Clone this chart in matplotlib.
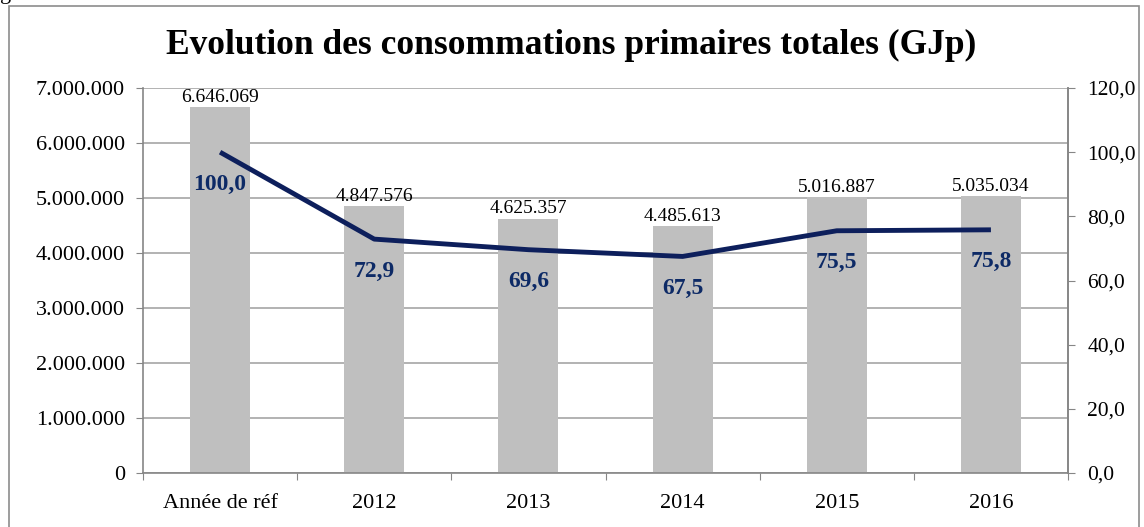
import matplotlib
matplotlib.use("Agg")
import matplotlib.pyplot as plt
from matplotlib.patches import Rectangle
from matplotlib.ticker import FuncFormatter, MultipleLocator

categories = ["Année de réf", "2012", "2013", "2014", "2015", "2016"]
consumption = [6646069, 4847576, 4625357, 4485613, 5016887, 5035034]
index_values = [100.0, 72.9, 69.6, 67.5, 75.5, 75.8]
title = "Evolution des consommations primaires totales (GJp)"

plt.rcParams['font.family'] = ['Liberation Serif', 'DejaVu Serif']

fig = plt.figure(figsize=(11.44, 5.27), dpi=100)
W, H = 1144, 527

def fx(px):
    return px / W

def fy(py):
    return 1 - py / H

# outer frame
fig.patches.append(Rectangle((fx(9), -0.02), fx(1139) - fx(9), fy(6) + 0.02,
                             transform=fig.transFigure, fill=False,
                             edgecolor='#8c8c8c', linewidth=1.2))
fig.text(fx(0), fy(-1), "g", fontsize=16, ha='left', va='baseline', color='black')

ax = fig.add_axes([fx(143), fy(473), fx(1068) - fx(143), fy(88) - fy(473)])
x = list(range(len(categories)))
bars = ax.bar(x, consumption, width=0.39, color='#bfbfbf', zorder=2)
ax.set_xlim(-0.5, len(categories) - 0.5)
ax.set_ylim(0, 7000000)
ax.yaxis.set_major_locator(MultipleLocator(1000000))
ax.yaxis.set_major_formatter(FuncFormatter(lambda v, p: f"{int(v):,}".replace(",", ".")))
ax.grid(axis='y', color='#a6a6a6', linewidth=1.2, zorder=0)
ax.set_axisbelow(True)
ax.set_xticks([i - 0.5 for i in range(len(categories) + 1)], minor=False)
ax.set_xticklabels([])
ax.set_xticks(x, minor=True)
ax.set_xticklabels(categories, minor=True)
ax.tick_params(axis='x', which='minor', length=0, pad=15, labelsize=16)
ax.tick_params(axis='x', which='major', length=5, color='#868686', direction='out')
ax.tick_params(axis='y', length=5, color='#868686', labelsize=16, pad=8)
for s in ['top']:
    ax.spines[s].set_visible(False)
for s in ['left', 'bottom', 'right']:
    ax.spines[s].set_color('#868686')
    ax.spines[s].set_linewidth(1.2)

for xi, v in zip(x, consumption):
    ax.annotate(f"{v:,}".replace(",", "."), (xi, v), xytext=(0, 1),
                textcoords='offset points', ha='center', va='bottom', fontsize=14)

ax2 = ax.twinx()
ax2.set_ylim(0, 120)
ax2.yaxis.set_major_locator(MultipleLocator(20))
ax2.yaxis.set_major_formatter(FuncFormatter(lambda v, p: f"{v:.1f}".replace(".", ",")))
ax2.plot(x, index_values, color='#0d1f5c', linewidth=3.5, zorder=3,
         solid_capstyle='butt')
ax2.tick_params(axis='y', length=5, color='#868686', labelsize=15.5, pad=9)
for s in ['top', 'left', 'bottom']:
    ax2.spines[s].set_visible(False)
ax2.spines['right'].set_color('#868686')
ax2.spines['right'].set_linewidth(1.2)
for xi, v in zip(x, index_values):
    ax2.annotate(f"{v:.1f}".replace(".", ","), (xi, v), xytext=(0, -23),
                 textcoords='offset points', ha='center', va='center',
                 fontsize=17, fontweight='bold', color='#0d2a66')

fig.text(fx(571), fy(45), title, ha='center', va='center', fontsize=25.5,
         fontweight='bold')

fig.savefig("out.png", dpi=100)
